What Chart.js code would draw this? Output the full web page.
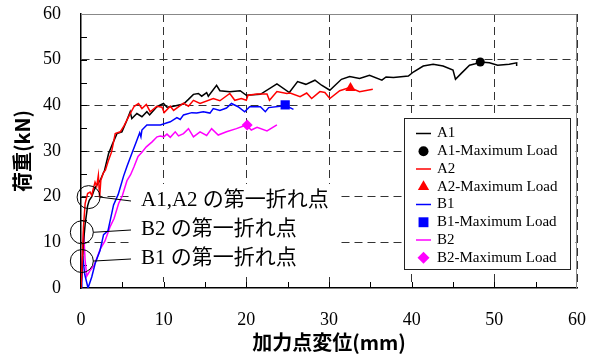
<!DOCTYPE html>
<html>
<head>
<meta charset="UTF-8">
<title>荷重-加力点変位</title>
<script src="https://cdn.jsdelivr.net/npm/chart.js@4.4.0/dist/chart.umd.min.js"></script>
<style>
  body { margin: 0; background: #fff; }
</style>
</head>
<body>
<canvas id="chart" width="594" height="359"></canvas>
<script>
// displacement (mm) / load (kN)
var a1X = [0, 0.15, 0.3, 0.5, 0.8, 1.0, 1.3, 1.6, 1.9, 2.3, 2.85, 3.33, 3.8, 4.35, 4.95, 5.5, 5.95, 6.15, 6.76, 7.37, 7.97, 8.3, 9.18, 9.98, 10.4, 11.2, 12.4, 13.0, 13.6, 14.2, 14.6, 15.2, 15.4, 16.4, 16.8, 18.0, 19.25, 20.0, 21.7, 23.7, 25.2, 26.2, 27.2, 28.3, 29.1, 30.1, 31.5, 32.5, 33.7, 34.9, 36.4, 36.9, 37.8, 39.6, 40.2, 41.4, 42.6, 43.8, 45.0, 45.3, 46.0, 47.0, 47.7, 48.3, 49.4, 50.4, 51.8, 52.7, 52.7]
var a1Y = [0, 5, 10, 14, 18, 19.2, 20, 21.5, 22.5, 23.5, 25.8, 29.4, 31.5, 33.8, 34.2, 36.5, 38.6, 37.1, 38.2, 37.5, 38.6, 37.9, 39.7, 40.4, 39.6, 39.8, 40.3, 41.3, 42.4, 42.6, 42.0, 42.8, 42.0, 44.4, 43.2, 43.0, 43.2, 42.2, 42.4, 44.7, 42.8, 45.2, 44.6, 45.5, 44.4, 43.3, 45.7, 46.3, 45.9, 46.6, 45.5, 46.2, 46.1, 46.4, 47.3, 48.6, 49.0, 48.6, 47.7, 45.7, 47.0, 48.8, 49.1, 49.5, 49.3, 48.8, 49.0, 49.3, 48.6]

var a2X = [0, 0.15, 0.3, 0.5, 0.8, 1.1, 1.3, 1.5, 1.7, 1.9, 2.1, 2.25, 2.4, 2.7, 2.95, 3.33, 3.7, 4.14, 4.75, 5.2, 5.95, 6.44, 6.96, 7.37, 7.9, 8.37, 9.18, 9.8, 10.06, 10.8, 11.2, 12.4, 13.0, 13.6, 14.4, 16.0, 16.8, 18.0, 18.6, 19.4, 20.0, 20.2, 21.3, 22.5, 22.8, 23.7, 24.9, 25.3, 26.5, 27.3, 27.9, 28.9, 29.5, 30.1, 31.3, 32.5, 33.7, 35.3]
var a2Y = [0, 6, 13.4, 18.5, 20.7, 21, 20.3, 21.8, 23.2, 22.3, 24.7, 19.8, 23.6, 25.2, 25.8, 28.0, 29.8, 33.8, 34.2, 35.5, 38.2, 39.8, 40.4, 39.3, 40.2, 38.6, 39.8, 39.6, 38.4, 39.8, 38.9, 40.5, 39.8, 41.1, 40.4, 41.5, 41.0, 42.6, 41.1, 41.5, 41.1, 42.2, 42.5, 42.5, 41.1, 43.0, 42.6, 42.7, 41.9, 42.7, 41.5, 43.0, 42.8, 41.5, 43.2, 43.9, 43.0, 43.5]

var b1X = [0, 0.1, 0.2, 0.45, 0.85, 1.3, 1.73, 2.3, 2.73, 3.26, 3.94, 4.5, 5.15, 5.6, 6.16, 6.6, 7.1, 7.25, 7.37, 7.97, 8.57, 9.6, 10.8, 11.6, 12.0, 12.4, 13.4, 14.0, 14.8, 15.6, 16.0, 16.8, 17.6, 18.2, 19.0, 19.8, 20.4, 21.7, 22.3, 22.7, 24.1, 24.7, 25.7]
var b1Y = [0, 4, 7, 3, 0, 2.4, 5.5, 8.2, 11.7, 12.5, 18.2, 20.5, 24.5, 26.8, 29.5, 31.6, 34.0, 33.1, 34.6, 35.7, 35.7, 35.7, 36.4, 37.3, 36.9, 37.9, 38.4, 38.3, 38.6, 38.3, 39.3, 38.9, 39.4, 40.4, 39.7, 38.6, 39.7, 39.7, 38.6, 39.5, 39.8, 40.0, 39.1]

var b2X = [0, 0.15, 0.32, 0.5, 0.7, 1.12, 1.6, 2.33, 2.9, 3.54, 4.0, 4.55, 5.0, 5.56, 6.0, 6.4, 6.9, 7.4, 7.9, 8.6, 9.2, 9.6, 10.0, 10.4, 10.8, 11.4, 11.8, 12.4, 13.0, 13.6, 14.4, 15.2, 15.8, 16.6, 17.6, 18.8, 20.0, 20.6, 21.3, 22.5, 23.7]
var b2Y = [0, 6, 12.4, 6, 2.6, 3.9, 5.0, 8.5, 10.3, 13.5, 15.2, 18.5, 20.2, 23.5, 24.8, 26.5, 28.8, 29.8, 30.9, 32.0, 33.1, 33.3, 33.1, 33.7, 33.0, 34.2, 33.3, 33.8, 34.9, 33.1, 34.2, 33.4, 34.9, 33.5, 34.2, 34.9, 35.7, 34.6, 35.2, 34.4, 35.7]

// maximum load points [x, y]
var a1Max = [48.3, 49.5]
var a2Max = [32.6, 43.8]
var b1Max = [24.7, 40.1]
var b2Max = [20.1, 35.7]

// first break points (circled), in data units
var breakNames = ['A1,A2 の第一折れ点', 'B2 の第一折れ点', 'B1 の第一折れ点']
var breakX = [0.92, 0.1, 0.1]
var breakY = [19.9, 12.2, 5.9]

var xTicks = [0, 10, 20, 30, 40, 50, 60]
var yTicks = [0, 10, 20, 30, 40, 50, 60]

function pts(xs, ys) {
  return xs.map(function(v, i) { return {x: v, y: ys[i]} })
}

function curve(label, xs, ys, color, order) {
  return {label: label, data: pts(xs, ys), showLine: true, borderColor: color, backgroundColor: color,
          borderWidth: 1.5, pointRadius: 0, tension: 0, order: order}
}

function peak(label, p, color, style, r) {
  return {label: label, data: [{x: p[0], y: p[1]}], showLine: false, borderColor: color, backgroundColor: color,
          pointStyle: style, pointRadius: r, borderWidth: 0, order: 0}
}

// chart.js pads the area for overhanging labels; the frame is set by layout.padding only
function noPad(s) {
  s.paddingTop = 0
  s.paddingBottom = 0
  s.paddingLeft = 0
  s.paddingRight = 0
}

var serif = '"Liberation Serif", "Times New Roman", serif'
var noteFont = '21px "Liberation Serif", "Noto Sans CJK JP", serif'

var overlay = {
  id: 'overlay',
  beforeDatasetsDraw: function(chart) {
    var ctx = chart.ctx, a = chart.chartArea, x = chart.scales.x, y = chart.scales.y
    ctx.save()
    // frame on top / right
    ctx.strokeStyle = '#888'
    ctx.lineWidth = 1
    ctx.beginPath()
    ctx.moveTo(a.left, a.top + 0.5)
    ctx.lineTo(a.right - 0.5, a.top + 0.5)
    ctx.lineTo(a.right - 0.5, a.bottom)
    ctx.stroke()
    // inward ticks every 5
    ctx.strokeStyle = '#000'
    ctx.beginPath()
    for (var v = 5; v < 60; v += 5) {
      var px = Math.round(x.getPixelForValue(v)) + 0.5
      ctx.moveTo(px, a.bottom)
      ctx.lineTo(px, a.bottom - 6)
      var py = Math.round(y.getPixelForValue(v)) + 0.5
      ctx.moveTo(a.left, py)
      ctx.lineTo(a.left + 6, py)
    }
    ctx.stroke()
    // white panel under the notes
    ctx.fillStyle = '#fff'
    ctx.fillRect(133, 184, 208, 93)
    ctx.restore()
  },
  afterDatasetsDraw: function(chart) {
    var ctx = chart.ctx, x = chart.scales.x, y = chart.scales.y
    ctx.save()
    // circles, leaders and notes
    var textY = [200, 229, 258]
    ctx.strokeStyle = '#000'
    ctx.lineWidth = 1
    ctx.font = noteFont
    ctx.fillStyle = '#000'
    ctx.textBaseline = 'middle'
    for (var i = 0; i < breakNames.length; i++) {
      var cx = x.getPixelForValue(breakX[i]), cy = y.getPixelForValue(breakY[i])
      ctx.beginPath()
      ctx.arc(cx, cy, 11.5, 0, Math.PI * 2)
      ctx.stroke()
      ctx.beginPath()
      ctx.moveTo(cx + 11.5, cy)
      ctx.lineTo(131, textY[i] + 1)
      ctx.stroke()
      ctx.fillText(breakNames[i], 141, textY[i])
    }
    // legend
    var lx = 404.5, ly = 118.5, lw = 166, lh = 151
    ctx.fillStyle = '#fff'
    ctx.fillRect(lx, ly, lw, lh)
    ctx.strokeStyle = '#222'
    ctx.strokeRect(lx, ly, lw, lh)
    ctx.font = '15px ' + serif
    chart.data.datasets.forEach(function(ds, k) {
      var iy = 133.5 + k * 17.75
      ctx.strokeStyle = ds.borderColor
      ctx.fillStyle = ds.backgroundColor
      if (ds.showLine) {
        ctx.lineWidth = 1.5
        ctx.beginPath()
        ctx.moveTo(416, iy)
        ctx.lineTo(431, iy)
        ctx.stroke()
      } else {
        Chart.helpers.drawPoint(ctx, {pointStyle: ds.pointStyle, radius: ds.pointRadius + 0.5, rotation: 0, borderWidth: 0}, 423.5, iy)
      }
      ctx.fillStyle = '#000'
      ctx.fillText(ds.label, 437, iy)
    })
    ctx.restore()
  }
}

var gridColor = function(c) { return c.tick && c.tick.value === 0 ? 'rgba(0,0,0,0)' : '#333' }

new Chart(document.getElementById('chart'), {
  type: 'scatter',
  data: {
    datasets: [
      curve('A1', a1X, a1Y, '#000000', 2),
      peak('A1-Maximum Load', a1Max, '#000000', 'circle', 4.5),
      curve('A2', a2X, a2Y, '#ff0000', 1),
      peak('A2-Maximum Load', a2Max, '#ff0000', 'triangle', 6),
      curve('B1', b1X, b1Y, '#0000ff', 3),
      peak('B1-Maximum Load', b1Max, '#0000ff', 'rect', 6.5),
      curve('B2', b2X, b2Y, '#ff00ff', 4),
      peak('B2-Maximum Load', b2Max, '#ff00ff', 'rectRot', 5.5)
    ]
  },
  options: {
    responsive: false,
    animation: false,
    layout: { padding: { top: 14, right: 17, left: 0, bottom: 0 } },
    plugins: { legend: { display: false }, tooltip: { enabled: false } },
    scales: {
      x: {
        type: 'linear', min: 0, max: 60,
        afterFit: function(s) { s.height = 71; noPad(s) },
        afterBuildTicks: function(s) { s.ticks = xTicks.map(function(v) { return {value: v} }) },
        ticks: { color: '#000', padding: 21, maxRotation: 0, font: { family: serif, size: 18 } },
        grid: { color: gridColor, lineWidth: 1, drawTicks: false },
        border: { display: true, color: '#000', width: 1.5, dash: [8, 5] },
        title: { display: true, text: '加力点変位(mm)', color: '#000', padding: { top: 0, bottom: 5 },
                 font: { family: '"Noto Sans CJK JP"', size: 20, weight: 'bold' } }
      },
      y: {
        type: 'linear', min: 0, max: 60,
        afterFit: function(s) { s.width = 81; noPad(s) },
        afterBuildTicks: function(s) { s.ticks = yTicks.map(function(v) { return {value: v} }) },
        ticks: { color: '#000', padding: 20, font: { family: serif, size: 18 } },
        grid: { color: gridColor, lineWidth: 1, drawTicks: false },
        border: { display: true, color: '#000', width: 1.5, dash: [8, 5] },
        title: { display: true, text: '荷重(kN)', color: '#000', padding: { top: 10, bottom: 0 },
                 font: { family: '"Noto Sans CJK JP"', size: 20, weight: 'bold' } }
      }
    }
  },
  plugins: [overlay]
})
</script>
</body>
</html>
